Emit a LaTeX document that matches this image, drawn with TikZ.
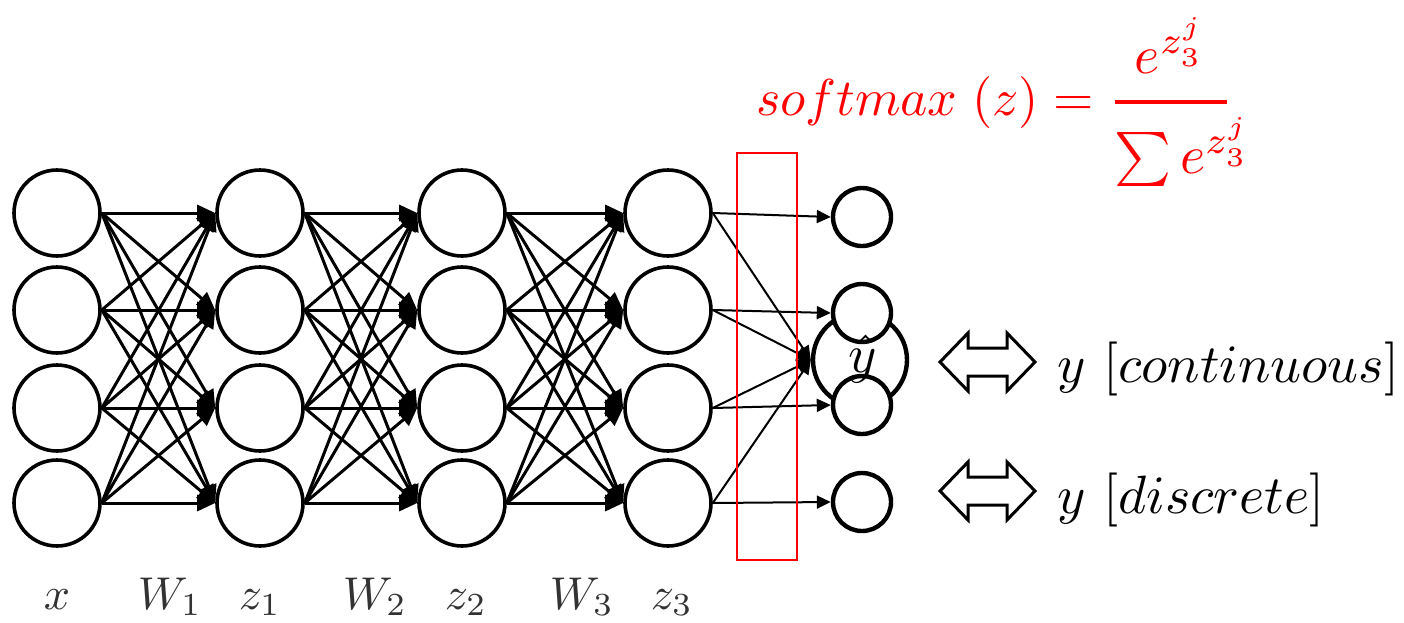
\documentclass[tikz,border=0pt]{standalone}
\usetikzlibrary{arrows.meta}
\tikzset{
  neuron/.style={circle, draw, line width=1.8pt, minimum size=43pt, inner sep=0pt, fill=white},
  outn/.style={circle, draw, line width=2.2pt, minimum size=29pt, inner sep=0pt, fill=white},
  bigout/.style={circle, draw, line width=2.2pt, minimum size=47pt, inner sep=0pt},
  conn/.style={line width=1.5pt, -{Triangle[length=9pt,width=8pt]}},
  oconn/.style={line width=1pt, -{Triangle[length=7pt,width=6.5pt]}},
  redbox/.style={draw=red, line width=1.2pt, minimum width=30pt, minimum height=203.5pt, inner sep=0pt},
  bigtxt/.style={font=\fontsize{10}{12}\selectfont, scale=2.7, transform shape, inner sep=0pt},
  lbl/.style={font=\fontsize{10}{12}\selectfont, scale=2.3, transform shape, inner sep=0pt, anchor=base, text=black!80},
  redtxt/.style={bigtxt, text=red},
  dblarrow/.pic={\draw[line width=1.5pt, line join=miter, fill=white]
     (-47.5,0) -- (-19.5,-29) -- (-19.5,-14) -- (19.5,-14) -- (19.5,-29) -- (47.5,0)
     -- (19.5,29) -- (19.5,14) -- (-19.5,14) -- (-19.5,29) -- cycle;}
}
\begin{document}
\begin{tikzpicture}[x=0.5pt, y=-0.5pt]
\useasboundingbox (0,0) rectangle (1404,622);
% hidden layers
\foreach \l/\x in {1/57,2/260,3/462,4/668}
  \foreach \i/\y in {1/213,2/310,3/408,4/503}
    \node[neuron] (n\l\i) at (\x,\y) {};
\foreach \l/\m in {1/2,2/3,3/4}
  \foreach \i in {1,...,4}
    \foreach \j in {1,...,4}
      \draw[conn] (n\l\i.east) -- (n\m\j.west);
% outputs
\node[bigout] (yh) at (860,360) {};
\foreach \i/\y in {1/217,2/313,3/405,4/502}
  \node[outn] (o\i) at (862,\y) {};
\foreach \i in {1,...,4}{
  \draw[oconn] (n4\i.east) -- (o\i.west);
  \draw[oconn] (n4\i.east) -- (yh.west);
}
\node[bigtxt, anchor=base] (yhl) at (863,372) {$\hat{y}$};
% red selection box
\node[redbox] (sel) at (767,356.5) {};
% softmax formula
\node[redtxt, scale=0.96, anchor=base west] (sm) at (755,115) {$softmax\;(z)=$};
\coordinate (bl) at (1115,102);
\coordinate (br) at (1227,102);
\draw[red, line width=2pt] (bl) -- (br);
\node[redtxt, anchor=base] (num) at (1170,73) {$e^{z_3^j}$};
\node[redtxt, anchor=base west] (den) at (1113,173) {$\sum e^{z_3^j}$};
% double arrows and texts
\pic at (987.5,362) {dblarrow};
\pic at (987.5,491) {dblarrow};
\node[bigtxt, anchor=base west] (tc) at (1056,382) {$y\ [continuous]$};
\node[bigtxt, anchor=base west] (td) at (1056,513) {$y\ [discrete]$};
% bottom labels
\node[lbl] (lx) at (57,609) {$x$};
\node[lbl] (lw1) at (170,609) {$W_1$};
\node[lbl] (lz1) at (260,609) {$z_1$};
\node[lbl] (lw2) at (375,609) {$W_2$};
\node[lbl] (lz2) at (466,609) {$z_2$};
\node[lbl] (lw3) at (582,609) {$W_3$};
\node[lbl] (lz3) at (672,609) {$z_3$};
\end{tikzpicture}
\end{document}
